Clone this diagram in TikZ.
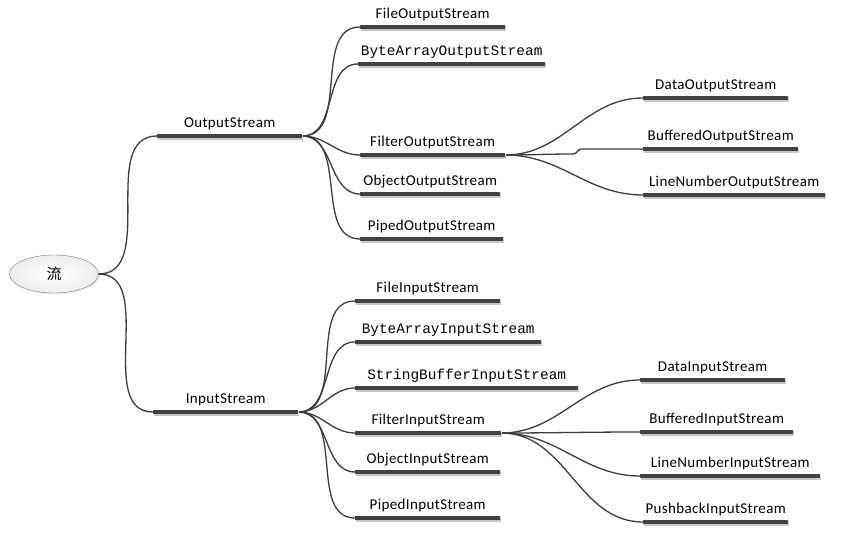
\documentclass[tikz,border=0pt]{standalone}
\usepackage{fontspec}
\setmainfont{Carlito}[LetterSpace=2.5]
\newfontfamily\monofont{Liberation Mono}
\newfontfamily\cjkfont{Noto Sans CJK SC}
\usetikzlibrary{shapes.geometric,shadows}
\definecolor{linegrey}{HTML}{3C3C3C}
\definecolor{bargrey}{HTML}{424242}
\definecolor{shadowgrey}{HTML}{C8C8C8}
\definecolor{rootline}{HTML}{808080}
\tikzset{
  rootnode/.style={
    ellipse, draw=rootline, inner color=white, outer color=black!7,
    minimum width=89pt, minimum height=38pt,
    drop shadow={opacity=0.15, shadow xshift=1pt, shadow yshift=-1.5pt},
    font=\cjkfont\fontsize{15}{15}\selectfont
  },
  topic/.style={
    anchor=south west, minimum width=#1, inner xsep=0pt, inner ysep=0pt,
    text height=10pt, text depth=8pt, font=\fontsize{15}{17}\selectfont
  },
  monotopic/.style={
    topic=#1, font=\monofont\fontsize{14.4}{16}\selectfont
  },
  bar/.style={
    draw=bargrey, line width=4.5pt,
    preaction={draw=shadowgrey, line width=4.5pt,
      transform canvas={xshift=1pt,yshift=-1.5pt}}
  },
  branch/.style={
    draw=linegrey, line width=1.3pt, out=0, in=180
  },
}

\begin{document}
\begin{tikzpicture}[x=1pt,y=-1pt]
  \useasboundingbox[fill=white] (0,0) rectangle (844,537);

  \node[rootnode] (root) at (54,274) {流};

  % output side
  \node[topic=145pt] (os) at (157,136) {OutputStream};
  \node[topic=145pt] (fos) at (360,27) {FileOutputStream};
  \node[monotopic=187pt] (baos) at (358,64) {ByteArrayOutputStream};
  \node[topic=145pt] (filos) at (360,155) {FilterOutputStream};
  \node[topic=140pt] (oos) at (360,194) {ObjectOutputStream};
  \node[topic=143pt] (pos) at (360,239) {PipedOutputStream};
  \node[topic=145pt] (dos) at (643,98) {DataOutputStream};
  \node[topic=155pt] (bos) at (643,149) {BufferedOutputStream};
  \node[topic=182pt] (lnos) at (643,195) {LineNumberOutputStream};

  % input side
  \node[topic=145pt] (is) at (153,412) {InputStream};
  \node[topic=145pt] (fis) at (355,301) {FileInputStream};
  \node[monotopic=186pt] (bais) at (355,342) {ByteArrayInputStream};
  \node[monotopic=223pt] (sbis) at (355,388) {StringBufferInputStream};
  \node[topic=146pt] (filis) at (355,433) {FilterInputStream};
  \node[topic=145pt] (ois) at (355,472) {ObjectInputStream};
  \node[topic=145pt] (pis) at (355,518) {PipedInputStream};
  \node[topic=145pt] (dis) at (640,380) {DataInputStream};
  \node[topic=153pt] (bis) at (640,432) {BufferedInputStream};
  \node[topic=180pt] (lnis) at (640,476) {LineNumberInputStream};
  \node[topic=145pt] (pbis) at (643,522) {PushbackInputStream};

  % connectors
  \foreach \c in {os,is}
    \draw[branch] (root.east) to (\c.south west);
  \foreach \c in {fos,baos,filos,oos,pos}
    \draw[branch] (os.south east) to (\c.south west);
  \foreach \c in {dos,lnos}
    \draw[branch] (filos.south east) to (\c.south west);
  \draw[branch] (filos.south east) to ++(68,-1) to ++(8,-5) -- (bos.south west);
  \foreach \c in {fis,bais,sbis,filis,ois,pis}
    \draw[branch] (is.south east) to (\c.south west);
  \foreach \c in {dis,bis,lnis,pbis}
    \draw[branch] (filis.south east) to (\c.south west);

  % bars under the labels
  \foreach \n in {os,fos,baos,filos,oos,pos,dos,bos,lnos,
                  is,fis,bais,sbis,filis,ois,pis,dis,bis,lnis,pbis}
    \draw[bar] (\n.south west) -- (\n.south east);
\end{tikzpicture}
\end{document}
